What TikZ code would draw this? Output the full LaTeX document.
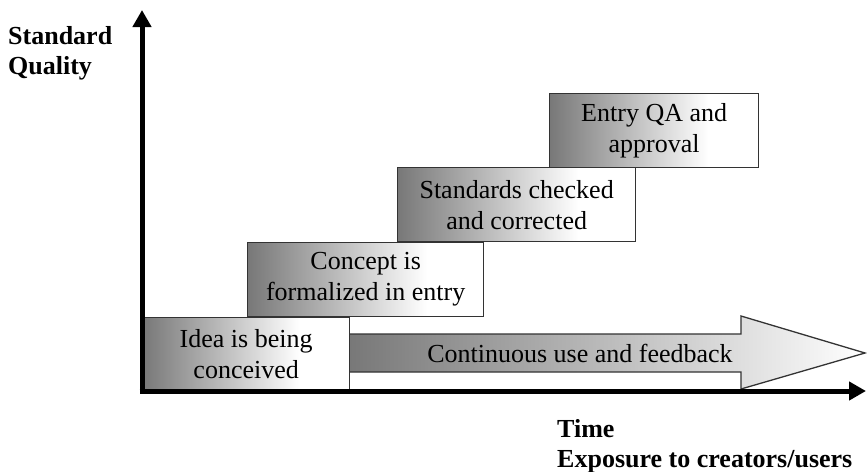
\documentclass[tikz,border=0pt]{standalone}
\usepackage{fontspec}
\setmainfont{Liberation Serif}
\usetikzlibrary{arrows.meta}

% grey-to-white fill used by the stage boxes (path spans 25bp..75bp)
\definecolor{gdark}{gray}{0.47}
\definecolor{edge}{gray}{0.2}
\pgfdeclarehorizontalshading{stagegrad}{100bp}{color(0bp)=(gdark); color(25bp)=(gdark); color(63bp)=(white); color(100bp)=(white)}

\tikzset{
  stagebox/.style={draw=edge, line width=1.3pt, shading=stagegrad, anchor=north west,
    inner sep=0pt, align=center, font=\fontsize{26}{31}\selectfont},
  flowarrow/.style={draw=edge, line width=1.3pt, left color=gdark, right color=white, shading angle=90},
  axisline/.style={line width=5pt, -{Triangle[length=17pt,width=18pt]}},
  axislabel/.style={font=\bfseries\fontsize{26}{30}\selectfont, inner sep=0pt, align=left},
}

\begin{document}
\begin{tikzpicture}[x=1pt,y=-1pt]
  \useasboundingbox (0,0) rectangle (867,471);

  % feedback arrow running along the time axis
  \path[flowarrow] (349,334) -- (741,334) -- (741,316) -- (865,353)
                   -- (741,389) -- (741,372) -- (349,372) -- cycle;
  \node[font=\fontsize{26}{31}\selectfont, anchor=base, inner sep=0pt] (feedback) at (580,362)
        {Continuous use and feedback};

  % stages, stepping up in quality
  \node[stagebox, minimum width=207pt, minimum height=72pt] (idea) at (142,317)
        {Idea is being\\conceived};
  \node[stagebox, minimum width=236pt, minimum height=74pt] (concept) at (247,242)
        {Concept is\\formalized in entry};
  \node[stagebox, minimum width=238pt, minimum height=74pt] (standards) at (397,167)
        {Standards checked\\and corrected};
  \node[stagebox, minimum width=209pt, minimum height=74pt] (qa) at (549,93)
        {Entry QA and\\approval};

  % axes
  \coordinate (origin) at (142,391);
  \coordinate (ytop) at (142,10);
  \coordinate (xend) at (866,391);
  \draw[axisline] (142,393.5) -- (ytop);
  \draw[axisline] (139.5,391) -- (xend);

  % axis labels
  \node[axislabel, anchor=base west] (ylab) at (8,74) {Standard\\Quality};
  \node[axislabel, anchor=base west] (xlab1) at (557,437) {Time};
  \node[axislabel, anchor=base west] (xlab2) at (557,467) {Exposure to creators/users};
\end{tikzpicture}
\end{document}
